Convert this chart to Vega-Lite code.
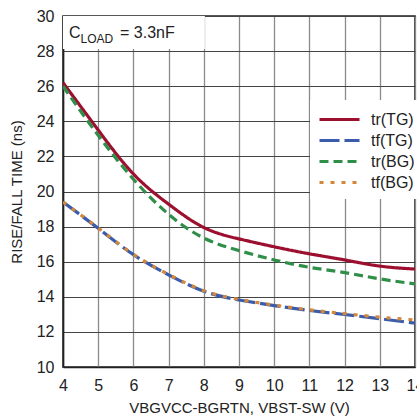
{
  "$schema": "https://vega.github.io/schema/vega-lite/v6.json",
  "width": 352,
  "height": 351,
  "autosize": "none",
  "padding": {"left": 63, "top": 16, "right": 2, "bottom": 52},
  "background": "white",
  "config": {
    "font": "Liberation Sans",
    "view": {"stroke": "#222", "strokeWidth": 1.6},
    "axis": {
      "labelFont": "Liberation Sans",
      "labelFontSize": 16,
      "labelColor": "#222",
      "titleFont": "Liberation Sans",
      "titleFontSize": 15,
      "titleFontWeight": "normal",
      "titleColor": "#222",
      "tickSize": 0,
      "grid": true,
      "domainColor": "#222",
      "domainWidth": 1.6,
      "labelOverlap": false
    },
    "legend": {
      "labelFont": "Liberation Sans",
      "labelFontSize": 16,
      "labelColor": "#222"
    }
  },
  "data": {
    "values": [
      {"series": "tr(TG)", "v": 4, "t": 26.2},
      {"series": "tr(TG)", "v": 5, "t": 23.5},
      {"series": "tr(TG)", "v": 6, "t": 21.0},
      {"series": "tr(TG)", "v": 7, "t": 19.28},
      {"series": "tr(TG)", "v": 8, "t": 17.95},
      {"series": "tr(TG)", "v": 9, "t": 17.3},
      {"series": "tr(TG)", "v": 10, "t": 16.85},
      {"series": "tr(TG)", "v": 11, "t": 16.45},
      {"series": "tr(TG)", "v": 12, "t": 16.1},
      {"series": "tr(TG)", "v": 13, "t": 15.75},
      {"series": "tr(TG)", "v": 14, "t": 15.58},
      {"series": "tf(TG)", "v": 4, "t": 19.4},
      {"series": "tf(TG)", "v": 5, "t": 17.9},
      {"series": "tf(TG)", "v": 6, "t": 16.4},
      {"series": "tf(TG)", "v": 7, "t": 15.25},
      {"series": "tf(TG)", "v": 8, "t": 14.32},
      {"series": "tf(TG)", "v": 9, "t": 13.82},
      {"series": "tf(TG)", "v": 10, "t": 13.5},
      {"series": "tf(TG)", "v": 11, "t": 13.22},
      {"series": "tf(TG)", "v": 12, "t": 12.99},
      {"series": "tf(TG)", "v": 13, "t": 12.75},
      {"series": "tf(TG)", "v": 14, "t": 12.5},
      {"series": "tr(BG)", "v": 4, "t": 26.0},
      {"series": "tr(BG)", "v": 5, "t": 23.2},
      {"series": "tr(BG)", "v": 6, "t": 20.7},
      {"series": "tr(BG)", "v": 7, "t": 18.7},
      {"series": "tr(BG)", "v": 8, "t": 17.35},
      {"series": "tr(BG)", "v": 9, "t": 16.63},
      {"series": "tr(BG)", "v": 10, "t": 16.1},
      {"series": "tr(BG)", "v": 11, "t": 15.68},
      {"series": "tr(BG)", "v": 12, "t": 15.38},
      {"series": "tr(BG)", "v": 13, "t": 15.02},
      {"series": "tr(BG)", "v": 14, "t": 14.74},
      {"series": "tf(BG)", "v": 4, "t": 19.4},
      {"series": "tf(BG)", "v": 5, "t": 17.92},
      {"series": "tf(BG)", "v": 6, "t": 16.42},
      {"series": "tf(BG)", "v": 7, "t": 15.27},
      {"series": "tf(BG)", "v": 8, "t": 14.35},
      {"series": "tf(BG)", "v": 9, "t": 13.85},
      {"series": "tf(BG)", "v": 10, "t": 13.53},
      {"series": "tf(BG)", "v": 11, "t": 13.26},
      {"series": "tf(BG)", "v": 12, "t": 13.04},
      {"series": "tf(BG)", "v": 13, "t": 12.84},
      {"series": "tf(BG)", "v": 14, "t": 12.68}
    ]
  },
  "layer": [
    {
      "mark": {"type": "line", "interpolate": "natural", "strokeWidth": 3.2, "clip": true},
      "encoding": {
        "x": {
          "field": "v",
          "type": "quantitative",
          "scale": {"domain": [4, 14], "nice": false, "zero": false},
          "axis": {
            "values": [4, 5, 6, 7, 8, 9, 10, 11, 12, 13, 14],
            "title": "VBGVCC-BGRTN, VBST-SW (V)",
            "labelPadding": 10,
            "titlePadding": 7,
            "grid": true,
            "gridColor": "#8a8a8a",
            "gridWidth": 1.3,
            "gridOpacity": 1,
            "labelFlush": false
          }
        },
        "y": {
          "field": "t",
          "type": "quantitative",
          "scale": {"domain": [10, 30], "nice": false, "zero": false},
          "axis": {
            "values": [10, 12, 14, 16, 18, 20, 22, 24, 26, 28, 30],
            "title": "RISE/FALL TIME (ns)",
            "labelPadding": 9,
            "titlePadding": 12,
            "grid": true,
            "gridColor": "#444",
            "gridWidth": 1.1,
            "gridOpacity": 1
          }
        },
        "color": {
          "field": "series",
          "type": "nominal",
          "sort": ["tr(TG)", "tf(TG)", "tr(BG)", "tf(BG)"],
          "scale": {
            "domain": ["tr(TG)", "tf(TG)", "tr(BG)", "tf(BG)"],
            "range": ["#9c0f2f", "#3b5cab", "#2f8f48", "#d2873b"]
          },
          "legend": {
            "title": null,
            "orient": "none",
            "legendX": 247,
            "legendY": 84,
            "fillColor": "white",
            "padding": 8,
            "symbolType": "M-1,0H3",
            "symbolSize": 400,
            "symbolStrokeWidth": 3,
            "rowPadding": 1,
            "labelOffset": 30
          }
        },
        "strokeDash": {
          "field": "series",
          "type": "nominal",
          "sort": ["tr(TG)", "tf(TG)", "tr(BG)", "tf(BG)"],
          "scale": {
            "domain": ["tr(TG)", "tf(TG)", "tr(BG)", "tf(BG)"],
            "range": [[1, 0], [20, 5], [9, 5], [4, 7]]
          },
          "legend": {
            "title": null,
            "orient": "none",
            "legendX": 247,
            "legendY": 84,
            "fillColor": "white",
            "padding": 8,
            "symbolType": "M-1,0H3",
            "symbolSize": 400,
            "symbolStrokeWidth": 3,
            "rowPadding": 1,
            "labelOffset": 30
          }
        },
        "order": {"field": "series", "sort": "ascending"}
      }
    },
    {
      "data": {"values": [{}]},
      "mark": {"type": "rect", "fill": "white"},
      "encoding": {
        "x": {
          "datum": 4, "type": "quantitative",
          "axis": {
            "values": [4, 5, 6, 7, 8, 9, 10, 11, 12, 13, 14],
            "title": "VBGVCC-BGRTN, VBST-SW (V)",
            "labelPadding": 10,
            "titlePadding": 7,
            "grid": true,
            "gridColor": "#8a8a8a",
            "gridWidth": 1.3,
            "gridOpacity": 1,
            "labelFlush": false
          }
        },
        "x2": {"datum": 8.03},
        "y": {
          "datum": 28.12, "type": "quantitative",
          "axis": {
            "values": [10, 12, 14, 16, 18, 20, 22, 24, 26, 28, 30],
            "title": "RISE/FALL TIME (ns)",
            "labelPadding": 9,
            "titlePadding": 12,
            "grid": true,
            "gridColor": "#444",
            "gridWidth": 1.1,
            "gridOpacity": 1
          }
        },
        "y2": {"datum": 30}
      }
    },
    {
      "data": {"values": [{}]},
      "mark": {"type": "text", "align": "left", "baseline": "alphabetic", "fontSize": 16, "color": "#222"},
      "encoding": {
        "x": {
          "datum": 4.17, "type": "quantitative",
          "axis": {
            "values": [4, 5, 6, 7, 8, 9, 10, 11, 12, 13, 14],
            "title": "VBGVCC-BGRTN, VBST-SW (V)",
            "labelPadding": 10,
            "titlePadding": 7,
            "grid": true,
            "gridColor": "#8a8a8a",
            "gridWidth": 1.3,
            "gridOpacity": 1,
            "labelFlush": false
          }
        },
        "y": {
          "datum": 28.75, "type": "quantitative",
          "axis": {
            "values": [10, 12, 14, 16, 18, 20, 22, 24, 26, 28, 30],
            "title": "RISE/FALL TIME (ns)",
            "labelPadding": 9,
            "titlePadding": 12,
            "grid": true,
            "gridColor": "#444",
            "gridWidth": 1.1,
            "gridOpacity": 1
          }
        },
        "text": {"value": "C"}
      }
    },
    {
      "data": {"values": [{}]},
      "mark": {"type": "text", "align": "left", "baseline": "alphabetic", "fontSize": 12, "color": "#222"},
      "encoding": {
        "x": {
          "datum": 4.5, "type": "quantitative",
          "axis": {
            "values": [4, 5, 6, 7, 8, 9, 10, 11, 12, 13, 14],
            "title": "VBGVCC-BGRTN, VBST-SW (V)",
            "labelPadding": 10,
            "titlePadding": 7,
            "grid": true,
            "gridColor": "#8a8a8a",
            "gridWidth": 1.3,
            "gridOpacity": 1,
            "labelFlush": false
          }
        },
        "y": {
          "datum": 28.46, "type": "quantitative",
          "axis": {
            "values": [10, 12, 14, 16, 18, 20, 22, 24, 26, 28, 30],
            "title": "RISE/FALL TIME (ns)",
            "labelPadding": 9,
            "titlePadding": 12,
            "grid": true,
            "gridColor": "#444",
            "gridWidth": 1.1,
            "gridOpacity": 1
          }
        },
        "text": {"value": "LOAD"}
      }
    },
    {
      "data": {"values": [{}]},
      "mark": {"type": "text", "align": "left", "baseline": "alphabetic", "fontSize": 16, "color": "#222"},
      "encoding": {
        "x": {
          "datum": 5.62, "type": "quantitative",
          "axis": {
            "values": [4, 5, 6, 7, 8, 9, 10, 11, 12, 13, 14],
            "title": "VBGVCC-BGRTN, VBST-SW (V)",
            "labelPadding": 10,
            "titlePadding": 7,
            "grid": true,
            "gridColor": "#8a8a8a",
            "gridWidth": 1.3,
            "gridOpacity": 1,
            "labelFlush": false
          }
        },
        "y": {
          "datum": 28.75, "type": "quantitative",
          "axis": {
            "values": [10, 12, 14, 16, 18, 20, 22, 24, 26, 28, 30],
            "title": "RISE/FALL TIME (ns)",
            "labelPadding": 9,
            "titlePadding": 12,
            "grid": true,
            "gridColor": "#444",
            "gridWidth": 1.1,
            "gridOpacity": 1
          }
        },
        "text": {"value": "= 3.3nF"}
      }
    }
  ]
}
